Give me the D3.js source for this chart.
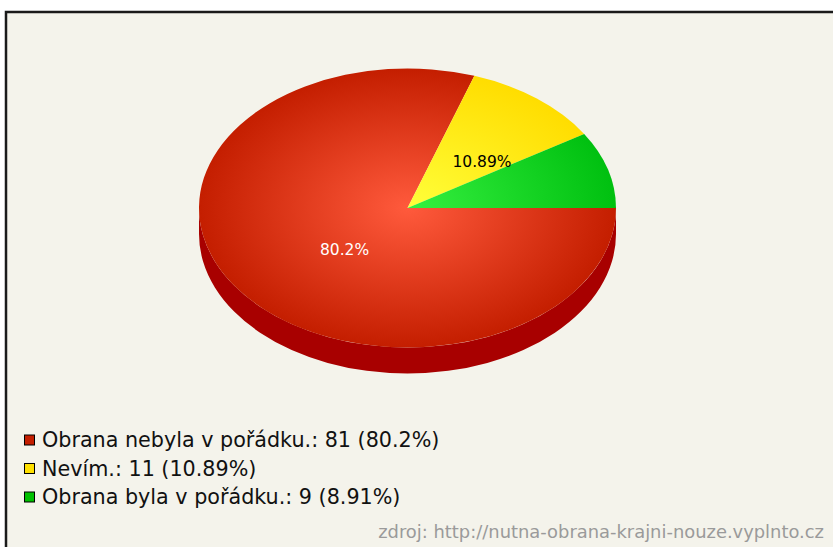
<!DOCTYPE html>
<html>
<head>
<meta charset="utf-8">
<script src="https://cdn.jsdelivr.net/npm/d3@7/dist/d3.min.js"></script>
<style>
  html, body { margin: 0; padding: 0; background: #ffffff; }
  svg { display: block; }
  text { font-family: "DejaVu Sans", Verdana, sans-serif; }
</style>
</head>
<body>
<svg id="chart" width="833" height="547"></svg>
<script>
// Survey answers
const categories = ["Obrana nebyla v pořádku.", "Nevím.", "Obrana byla v pořádku."];
const counts = [81, 11, 9];
const percentLabels = ["80.2%", "10.89%", "8.91%"];
const showOnPie = [true, true, false];
const sourceNote = "zdroj: http://nutna-obrana-krajni-nouze.vyplnto.cz";

// Slice colours: gradient centre, gradient edge, legend swatch
const sliceInner = ["#ff5a3c", "#ffff3a", "#36f040"];
const sliceOuter = ["#c41e00", "#ffdd00", "#00c010"];
const swatch = ["#c41e00", "#ffe000", "#00c000"];
const sideColor = "#a80000";

const W = 833, H = 547;
const svg = d3.select("#chart");

// panel background with frame
svg.append("rect").attr("x", 0).attr("y", 0).attr("width", W).attr("height", H).attr("fill", "#ffffff");
svg.append("rect").attr("x", 6).attr("y", 12).attr("width", W + 10).attr("height", H + 10)
  .attr("fill", "#f4f3eb").attr("stroke", "#1a1a1a").attr("stroke-width", 2.5);

// pie geometry
const cx = 407.5, cy = 208, rx = 208.5, ry = 139.5, depth = 26;
const squash = ry / rx;

const pie = d3.pie().sort(null).value(d => d)
  .startAngle(Math.PI / 2).endAngle(Math.PI / 2 + 2 * Math.PI);
const slices = pie(counts);
const arc = d3.arc().innerRadius(0).outerRadius(rx);

const defs = svg.append("defs");
slices.forEach((s, i) => {
  const g = defs.append("radialGradient").attr("id", "grad" + i)
    .attr("gradientUnits", "userSpaceOnUse").attr("cx", 0).attr("cy", 0).attr("r", rx);
  g.append("stop").attr("offset", "0%").attr("stop-color", sliceInner[i]);
  g.append("stop").attr("offset", "100%").attr("stop-color", sliceOuter[i]);
});

// extruded side (lower half of the rim)
svg.append("path")
  .attr("d", `M${cx + rx},${cy} L${cx + rx},${cy + depth} A${rx},${ry} 0 0 1 ${cx - rx},${cy + depth} L${cx - rx},${cy} A${rx},${ry} 0 0 0 ${cx + rx},${cy} Z`)
  .attr("fill", sideColor);

// top face
const face = svg.append("g").attr("transform", `translate(${cx},${cy}) scale(1,${squash})`);
face.selectAll("path").data(slices).join("path")
  .attr("d", arc)
  .attr("fill", (d, i) => `url(#grad${i})`);

// value labels on the top face
const labelK = 0.46;
slices.forEach((s, i) => {
  if (!showOnPie[i]) return;
  const mid = (s.startAngle + s.endAngle) / 2;
  const x = cx + labelK * rx * Math.sin(mid) + 15;
  const y = cy - labelK * ry * Math.cos(mid) + 4.5;
  svg.append("text").attr("x", x).attr("y", y)
    .attr("text-anchor", "middle").attr("dominant-baseline", "central")
    .attr("font-size", 15.5)
    .attr("fill", i === 0 ? "#ffffff" : "#000000")
    .text(percentLabels[i]);
});

// legend
const legend = svg.append("g");
categories.forEach((c, i) => {
  const y = 440 + i * 28.5;
  legend.append("rect").attr("x", 24.5).attr("y", y - 5).attr("width", 10).attr("height", 10)
    .attr("fill", swatch[i]).attr("stroke", "#000").attr("stroke-width", 1);
  legend.append("text").attr("x", 42).attr("y", y).attr("dominant-baseline", "central")
    .attr("font-size", 20.7).attr("fill", "#111")
    .text(`${c}: ${counts[i]} (${percentLabels[i]})`);
});

// source note
svg.append("text").attr("x", 824).attr("y", 531).attr("text-anchor", "end")
  .attr("dominant-baseline", "central").attr("font-size", 17.9).attr("fill", "#9a9a9a")
  .text(sourceNote);
</script>
</body>
</html>
